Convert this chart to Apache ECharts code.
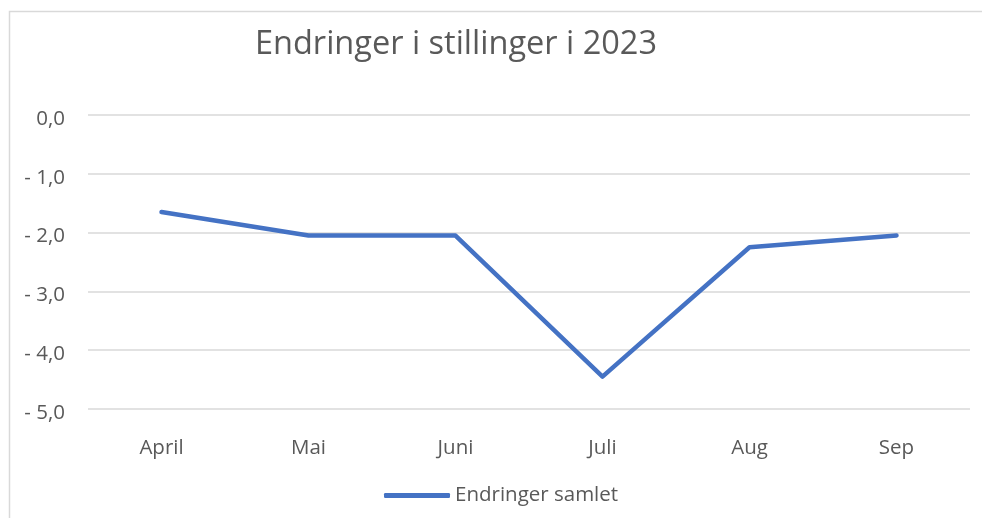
<!DOCTYPE html>
<html>
<head>
<meta charset="utf-8">
<script src="https://cdn.jsdelivr.net/npm/echarts@6/dist/echarts.min.js"></script>
<style>
  html, body { margin: 0; padding: 0; background: #fff; }
  #main { width: 982px; height: 518px; }
</style>
</head>
<body>
<div id="main"></div>
<script>
// data
var months = ['April', 'Mai', 'Juni', 'Juli', 'Aug', 'Sep'];
var endringer = [-1.65, -2.05, -2.05, -4.45, -2.25, -2.05];
var yTicks = [0, -1, -2, -3, -4, -5];

var myChart = echarts.init(document.getElementById('main'));

// format like "- 1,0"
function fmt(v) {
    if (v === 0) return '0,0';
    return '- ' + Math.abs(v).toFixed(1).replace('.', ',');
}

var option = {
    animation: false,
    textStyle: { fontFamily: 'Open Sans' },
    graphic: [{
        type: 'rect',
        shape: { x: 9.5, y: 11.5, width: 1000, height: 600 },
        style: { fill: 'none', stroke: '#d9d9d9', lineWidth: 1.5 }
    }],
    title: {
        text: 'Endringer i stillinger i 2023',
        left: 250,
        top: 23,
        textStyle: { fontSize: 32.5, fontWeight: 'normal', color: '#595959', fontFamily: 'Open Sans' }
    },
    legend: {
        bottom: 12,
        left: 384,
        padding: 0,
        itemWidth: 66,
        itemHeight: 5,
        itemGap: 8,
        icon: 'roundRect',
        textStyle: { fontSize: 20.5, color: '#595959' },
        data: ['Endringer samlet']
    },
    grid: { left: 88, right: 12, top: 115, height: 294 },
    xAxis: {
        type: 'category',
        data: months,
        boundaryGap: true,
        axisLine: { show: false },
        axisTick: { show: false },
        axisLabel: { fontSize: 20.5, color: '#595959', margin: 29 }
    },
    yAxis: {
        type: 'value',
        min: Math.min.apply(null, yTicks),
        max: Math.max.apply(null, yTicks),
        interval: 1,
        axisLine: { show: false },
        axisTick: { show: false },
        axisLabel: {
            color: '#595959', margin: 23, formatter: fmt,
            verticalAlign: 'top', lineHeight: 24, fontSize: 20.5,
            padding: [-8, 0, 0, 0]
        },
        splitLine: { lineStyle: { color: '#d9d9d9', width: 1.5 } }
    },
    series: [{
        name: 'Endringer samlet',
        type: 'line',
        data: endringer,
        symbol: 'none',
        lineStyle: { color: '#4472C4', width: 4.5, cap: 'round', join: 'round' },
        itemStyle: { color: '#4472C4' }
    }]
};
myChart.setOption(option);
</script>
</body>
</html>
